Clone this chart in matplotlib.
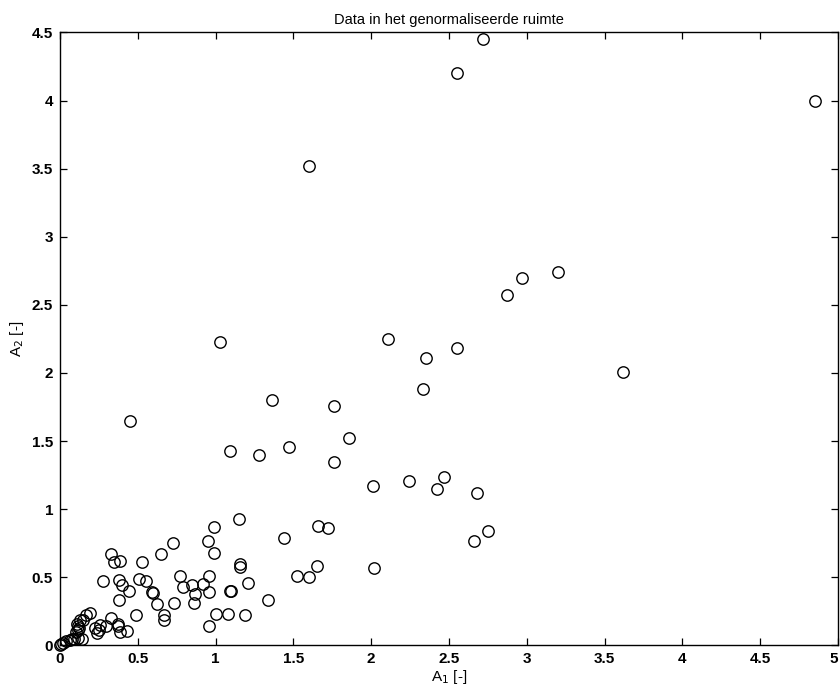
import matplotlib.pyplot as plt
import numpy as np

# punten in de genormaliseerde ruimte (A1, A2)
a1 = [2.72, 2.55, 1.60, 4.85,
      3.20, 2.97, 2.87, 2.11, 1.03, 2.55, 2.35, 3.62, 2.33,
      1.36, 1.76, 0.45, 1.86, 1.47, 1.09, 1.28, 1.76,
      2.47, 2.24, 2.01, 2.42, 2.68,
      1.15, 1.66, 0.99, 1.72, 2.75, 1.44, 2.66, 0.95, 0.725, 0.99, 0.65, 0.33,
      0.35, 0.386, 0.53, 1.16, 1.16, 1.65, 2.02,
      1.525, 1.60, 0.77, 0.96, 0.51, 0.553, 0.38, 0.275, 1.21,
      0.92, 0.40, 0.85, 0.79, 0.446, 1.09, 1.10, 0.59, 0.60, 0.87, 0.96,
      1.34, 0.38, 0.73, 0.86, 0.624,
      1.00, 1.08, 1.19, 0.667, 0.667, 0.487, 0.96,
      0.33, 0.37, 0.375, 0.386, 0.43, 0.294, 0.257, 0.225, 0.236, 0.25,
      0.19, 0.167, 0.15, 0.13, 0.11, 0.114, 0.124, 0.10, 0.114,
      0.14, 0.118, 0.08, 0.09, 0.065, 0.04, 0.02, 0.006, 0.0]
a2 = [4.45, 4.20, 3.52, 4.00,
      2.74, 2.70, 2.57, 2.25, 2.23, 2.18, 2.11, 2.01, 1.88,
      1.80, 1.76, 1.65, 1.52, 1.46, 1.43, 1.40, 1.35,
      1.24, 1.21, 1.17, 1.15, 1.12,
      0.93, 0.88, 0.87, 0.865, 0.84, 0.79, 0.77, 0.765, 0.75, 0.68, 0.67, 0.67,
      0.615, 0.62, 0.61, 0.60, 0.575, 0.58, 0.57,
      0.51, 0.50, 0.51, 0.51, 0.486, 0.47, 0.48, 0.47, 0.46,
      0.45, 0.44, 0.44, 0.43, 0.40, 0.40, 0.40, 0.39, 0.385, 0.38, 0.39,
      0.335, 0.33, 0.31, 0.31, 0.305,
      0.23, 0.23, 0.22, 0.22, 0.19, 0.22, 0.14,
      0.20, 0.16, 0.14, 0.10, 0.106, 0.14, 0.15, 0.126, 0.094, 0.11,
      0.24, 0.22, 0.19, 0.19, 0.16, 0.14, 0.126, 0.097, 0.11,
      0.045, 0.053, 0.045, 0.05, 0.04, 0.03, 0.02, 0.01, 0.0]

xticks = [0, 0.5, 1, 1.5, 2, 2.5, 3, 3.5, 4, 4.5, 5]
yticks = [0, 0.5, 1, 1.5, 2, 2.5, 3, 3.5, 4, 4.5]

plt.rcParams['font.family'] = ['Liberation Sans', 'DejaVu Sans']

fig = plt.figure(figsize=(8.4, 7.0), dpi=100)
ax = fig.add_axes([0.0714, 0.078, 0.9262, 0.8756])

ax.plot(a1, a2, 'o', markerfacecolor='none', markeredgecolor='black',
        markersize=8.2, markeredgewidth=1.0, linestyle='none', clip_on=False)

ax.set_xlim(0, 5)
ax.set_ylim(0, 4.5)
ax.set_xticks(xticks)
ax.set_yticks(yticks)
ax.set_xticklabels(['%g' % t for t in xticks], fontsize=11, fontweight='bold')
ax.set_yticklabels(['%g' % t for t in yticks], fontsize=11, fontweight='bold')
# laatste x-label ('5') valt anders buiten de rand
ax.get_xticklabels()[-1].set_horizontalalignment('right')
ax.tick_params(direction='in', top=True, right=True, length=5, width=0.9, pad=5)
for s in ax.spines.values():
    s.set_linewidth(1.0)

ax.set_title('Data in het genormaliseerde ruimte', fontsize=10.5, pad=6)
ax.set_xlabel('A$_1$ [-]', fontsize=11, labelpad=1)
ax.set_ylabel('A$_2$ [-]', fontsize=11, labelpad=4)

plt.savefig('out.png', dpi=100)
plt.close()
